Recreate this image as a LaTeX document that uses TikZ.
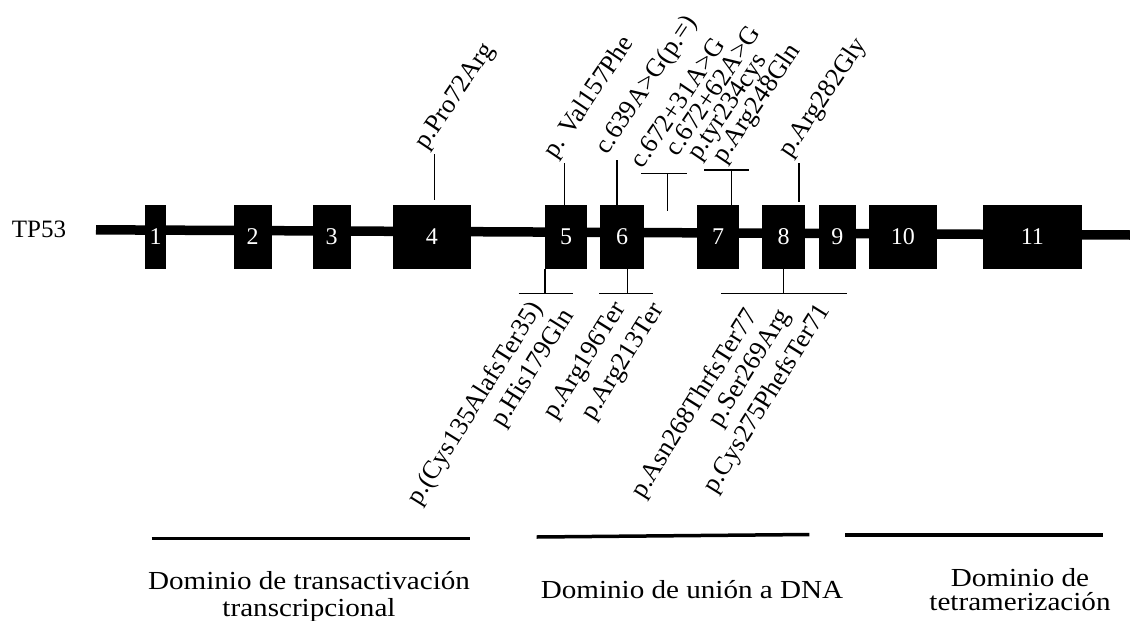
\documentclass[tikz,border=0pt]{standalone}
\usepackage{fontspec}
\setmainfont{Liberation Serif}
\newfontfamily\domfont[FakeStretch=1.12]{Liberation Serif}
\begin{document}
\begin{tikzpicture}[x=1pt,y=-1pt,
  exonbox/.style={fill=black, draw=none, inner sep=0pt, minimum height=64pt, text=white, font=\fontsize{24}{24}\selectfont},
  stem/.style={line width=1.5pt},
  backbone/.style={line width=9.5pt},
  toplab/.style={anchor=south west, rotate=56, inner sep=0pt, font=\fontsize{26}{26}\selectfont},
  botlab/.style={anchor=east, rotate=58, inner sep=0pt, font=\fontsize{26}{26}\selectfont},
  domline/.style={line width=3.5pt},
  domtext/.style={anchor=base, align=center, inner sep=0pt}
]
\useasboundingbox (0,0) rectangle (1130,621);
% backbone
\coordinate (bbL) at (96,229.8);
\coordinate (bbR) at (1130,235);
\draw[backbone] (bbL) -- (bbR);
\node[anchor=base west, inner sep=0pt, font=\fontsize{25}{25}\selectfont] (tp) at (11.7,237.7) {TP53};
% exons
\node[exonbox, minimum width=21pt]   (e1)  at (155.5,237) {1};
\node[exonbox, minimum width=38pt]   (e2)  at (252.6,237) {2};
\node[exonbox, minimum width=38pt]   (e3)  at (331.7,237) {3};
\node[exonbox, minimum width=78pt]   (e4)  at (431.8,237) {4};
\node[exonbox, minimum width=42pt]   (e5)  at (566,237) {5};
\node[exonbox, minimum width=44pt]   (e6)  at (622,237) {6};
\node[exonbox, minimum width=42.5pt] (e7)  at (718,237) {7};
\node[exonbox, minimum width=42.6pt] (e8)  at (783.7,237) {8};
\node[exonbox, minimum width=37.2pt] (e9)  at (837.3,237) {9};
\node[exonbox, minimum width=67.2pt] (e10) at (902.9,237) {10};
\node[exonbox, minimum width=99.2pt] (e11) at (1032.4,237) {11};
% top stems
\coordinate (t4a) at (434.3,154);  \coordinate (t4b) at (434.3,200);
\draw[stem] (t4a) -- (t4b);
\coordinate (t5a) at (564.3,163.3);
\draw[stem] (t5a) -- (t5a |- e5.north);
\coordinate (t6a) at (617,160);
\draw[stem] (t6a) -- (t6a |- e6.north);
\coordinate (tAl) at (641,173.3); \coordinate (tAr) at (686.7,173.3);
\coordinate (tAm) at (667.3,173.3); \coordinate (tAb) at (667.3,210.7);
\draw[stem] (tAl) -- (tAr);
\draw[stem] (tAm) -- (tAb);
\coordinate (tBl) at (704,170); \coordinate (tBr) at (749.3,170);
\coordinate (tBm) at (731.7,170);
\draw[stem] (tBl) -- (tBr);
\draw[stem] (tBm) -- (tBm |- e7.north);
\coordinate (t8a) at (799,163.3); \coordinate (t8b) at (799,201.7);
\draw[stem] (t8a) -- (t8b);
% top labels
\node[toplab] (l1) at (431,154) {p.Pro72Arg};
\node[toplab] (l2) at (560,163) {p. Val157Phe};
\node[toplab] (l3) at (612,159) {c.639A>G(p.=)};
\node[toplab] (l4) at (643,170) {c.672+31A>G};
\node[toplab] (l5) at (678,158) {c.672+62A>G};
\node[toplab] (l6) at (704,165) {p.tyr234cys};
\node[toplab] (l7) at (729,168) {p.Arg248Gln};
\node[toplab] (l8) at (795,162) {p.Arg282Gly};
% bottom stems
\coordinate (bAm) at (545,293.3); \coordinate (bAl) at (518.6,293.3); \coordinate (bAr) at (573.1,293.3);
\draw[stem] (bAm |- e5.south) -- (bAm);
\draw[stem] (bAl) -- (bAr);
\coordinate (bBm) at (627.6,293.3); \coordinate (bBl) at (599,293.3); \coordinate (bBr) at (653,293.3);
\draw[stem] (bBm |- e6.south) -- (bBm);
\draw[stem] (bBl) -- (bBr);
\coordinate (bCm) at (783.7,293.3); \coordinate (bCl) at (721,293.3); \coordinate (bCr) at (846.6,293.3);
\draw[stem] (bCm |- e8.south) -- (bCm);
\draw[stem] (bCl) -- (bCr);
% bottom labels
\node[botlab] (m1) at (538,305) {p.(Cys135AlafsTer35)};
\node[botlab] (m2) at (569,312) {p.His179Gln};
\node[botlab] (m3) at (621,305) {p.Arg196Ter};
\node[botlab] (m4) at (659,306) {p.Arg213Ter};
\node[botlab] (m5) at (753,312) {p.Asn268ThrfsTer77};
\node[botlab] (m6) at (786,312) {p.Ser269Arg};
\node[botlab] (m7) at (825,307) {p.Cys275PhefsTer71};
% domains
\coordinate (d1l) at (151.7,538.3); \coordinate (d1r) at (470,538.3);
\draw[domline] (d1l) -- (d1r);
\coordinate (d2l) at (536.7,537); \coordinate (d2r) at (809.3,534.5);
\draw[domline] (d2l) -- (d2r);
\coordinate (d3l) at (845,535); \coordinate (d3r) at (1103.3,535);
\draw[domline] (d3l) -- (d3r);
\node[domtext, font=\domfont\fontsize{26}{27}\selectfont] (dt1) at (309,616) {Dominio de transactivación\\transcripcional};
\node[domtext, font=\domfont\fontsize{26}{26}\selectfont] (dt2) at (692,598) {Dominio de unión a DNA};
\node[domtext, font=\domfont\fontsize{26}{24}\selectfont] (dt3) at (1020,610) {Dominio de\\tetramerización};
\end{tikzpicture}
\end{document}
